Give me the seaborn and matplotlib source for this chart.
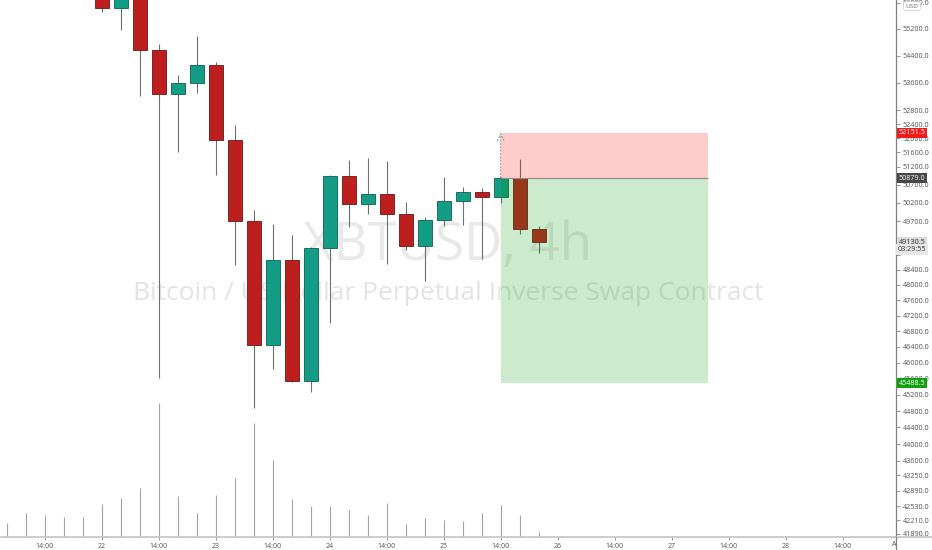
import numpy as np
import matplotlib
matplotlib.use("Agg")
import matplotlib.pyplot as plt
from matplotlib.patches import Rectangle
import seaborn as sns

sns.set_theme(style="white")
plt.rcParams['font.family'] = ['Open Sans', 'DejaVu Sans']

nan = np.nan
# ---- data (4h candles, bar index 0..28) ----
bar_index = list(range(29))
open_ = [nan] * 5 + [56500, 55836, 56250, 54578, 53264, 53586, 54115, 51951, 49693, 46445,
                     48645, 45548, 48965, 50939, 50157, 50432, 49892, 49027, 49728, 50256,
                     50487, 50349, 50891, 49484]
high = [nan] * 5 + [56700, 56350, 56400, 54740, 53829, 54989, 54204, 52370, 50001, 49612,
                    49322, 48990, 50967, 51386, 51451, 51366, 50212, 49802, 50911, 50625,
                    50597, 50900, 51406, 49574]
low = [nan] * 5 + [55724, 55160, 53224, 45615, 51620, 53293, 50958, 48520, 44866, 45840,
                   45508, 45275, 46999, 49531, 49892, 48539, 48920, 48098, 49574, 49593,
                   48672, 50201, 49341, 48848]
close = [nan] * 5 + [55836, 56250, 54578, 53264, 53586, 54115, 51951, 49710, 46445, 48645,
                     45548, 48965, 50939, 50157, 50432, 49892, 49027, 49728, 50256, 50487,
                     50349, 50891, 49484, 49130.5]
volume = [14, 23.7, 21.7, 20, 20, 33, 38.7, 49, 134.3, 41, 24.3, 41.7, 59, 114.3, 77,
          38.3, 31, 31, 27, 22, 33.7, 13, 19, 16.7, 16, 23.7, 31.7, 21.7, 4.7]

time_tick_pos = [2, 5, 8, 11, 14, 17, 20, 23, 26, 29, 32, 35, 38, 41, 44]
time_tick_labels = ["14:00", "22", "14:00", "23", "14:00", "24", "14:00", "25",
                    "14:00", "26", "14:00", "27", "14:00", "28", "14:00"]
price_ticks = [56000, 55200, 54400, 53600, 52800, 52400, 52000, 51600, 51200, 50700,
               50200, 49700, 49200, 48800, 48400, 48000, 47600, 47200, 46800, 46400,
               46000, 45600, 45200, 44800, 44400, 44000, 43600, 43250, 42890, 42530,
               42210, 41890]
hidden_ticks = [49200, 48800]  # fully covered by the price/countdown labels

# position tool
entry_price = 50879.0
stop_price = 52151.5
target_price = 45488.5
pos_start, pos_end = 26, 36.92
last_price = 49130.5
countdown = "03:29:55"

title_text = "XBTUSD, 4h"
subtitle_text = "Bitcoin / US Dollar Perpetual Inverse Swap Contract"

# ---- figure ----
W, H = 932, 550
fig = plt.figure(figsize=(W / 100, H / 100), dpi=100)
fig.patch.set_facecolor("white")
rect = [0, 13 / H, 895.7 / W, 537 / H]

axv = fig.add_axes(rect)
axv.set_facecolor("white")
ax = fig.add_axes(rect, sharex=axv)
ax.set_facecolor("none")

# volume
axv.vlines(bar_index, 0, volume, color="#a3a3a3", lw=0.8)
axv.set_ylim(0, 537)
axv.set_yticks([])
for s in axv.spines.values():
    s.set_visible(False)

axv.text(0.5, 1 - 246 / 537, title_text, transform=axv.transAxes, ha="center",
         va="center", fontsize=38, color="#e9e9e9", zorder=0)
axv.text(0.5, 1 - 293 / 537, subtitle_text, transform=axv.transAxes, ha="center",
         va="center", fontsize=19, color="#e4e4e4", zorder=0)

# candles
up_c, up_e = "#139c86", "#0b5f51"
dn_c, dn_e = "#bd1f1f", "#6e1414"
o = np.array(open_, float); h = np.array(high, float)
l = np.array(low, float); c = np.array(close, float)
xs = np.array(bar_index, float)
ok = ~np.isnan(o)
ax.vlines(xs[ok], l[ok], h[ok], color="#707070", lw=0.8, zorder=2)
up = ok & (c >= o)
dn = ok & (c < o)
ax.bar(xs[up], c[up] - o[up], bottom=o[up], width=0.74, color=up_c, edgecolor=up_e,
       linewidth=0.6, zorder=3)
ax.bar(xs[dn], o[dn] - c[dn], bottom=c[dn], width=0.74, color=dn_c, edgecolor=dn_e,
       linewidth=0.6, zorder=3)

# position box (drawn over candles)
ax.add_patch(Rectangle((pos_start, entry_price), pos_end - pos_start, stop_price - entry_price,
                       facecolor=(1, 0, 0, 0.2), edgecolor="none", zorder=5))
ax.add_patch(Rectangle((pos_start, target_price), pos_end - pos_start, entry_price - target_price,
                       facecolor=(0, 0.59, 0, 0.2), edgecolor="none", zorder=5))
ax.hlines(entry_price, pos_start, pos_end, color="#8c8c8c", lw=0.8, zorder=6)
ax.annotate("", xy=(pos_start, stop_price), xytext=(pos_start, entry_price),
            arrowprops=dict(arrowstyle="->", linestyle=(0, (2, 2)), color="#8a8a8a",
                            lw=0.6, shrinkA=0, shrinkB=0), zorder=6)

# axes setup
ax.set_yscale("log")
ax.set_ylim(41820, 56081)
ax.set_xlim(-0.35, 46.79)
ax.yaxis.tick_right()
ax.set_yticks(price_ticks)
ax.set_yticklabels(["" if p in hidden_ticks else f"{p:.1f}" for p in price_ticks])
ax.yaxis.set_minor_locator(matplotlib.ticker.NullLocator())
ax.tick_params(axis="y", which="major", direction="out", length=3, width=0.6,
               color="#888888", labelsize=5.2, labelcolor="#555555", pad=2, right=True)
axv.set_xticks(time_tick_pos)
axv.set_xticklabels(time_tick_labels)
axv.tick_params(axis="x", direction="out", length=2, width=0.6, color="#888888",
                labelsize=5, labelcolor="#555555", pad=2, bottom=True)
ax.tick_params(axis="x", bottom=False, labelbottom=False)
for name, s in ax.spines.items():
    s.set_visible(name == "right")
ax.spines["right"].set_color("#808080")
ax.spines["right"].set_linewidth(0.9)
axv.spines["bottom"].set_visible(True)
axv.spines["bottom"].set_color("#c4c4c4")
axv.spines["bottom"].set_linewidth(1.2)
ax.grid(False); axv.grid(False)

# extensions of axis lines into the margin
fig.add_artist(plt.Line2D([895.7 / W, 1], [13 / H, 13 / H], color="#c4c4c4", lw=1.2))
fig.add_artist(plt.Line2D([895.7 / W, 895.7 / W], [0, 13 / H], color="#808080", lw=0.9))
fig.text(893.7 / W, 1 - 544 / H, "A", fontsize=5, color="#555555", ha="center", va="center")

# price labels on the scale
yt = ax.get_yaxis_transform()
def price_label(y, txt, fc, tc):
    ax.text(1.003, y, txt, transform=yt, ha="left", va="center", fontsize=5.2,
            color=tc, zorder=10, clip_on=False,
            bbox=dict(boxstyle="square,pad=0.25", facecolor=fc, edgecolor="none"))

price_label(stop_price, f"{stop_price:.1f}", "#f21a1a", "white")
price_label(entry_price, f"{entry_price:.1f}", "#474747", "white")
price_label(target_price, f"{target_price:.1f}", "#10a010", "white")
price_label(last_price, f"{last_price:.1f}", "#dadada", "#333333")
fig.text(898 / W, 1 - 249.7 / H, countdown, ha="left", va="center", fontsize=5.2,
         color="#333333", zorder=10,
         bbox=dict(boxstyle="square,pad=0.25", facecolor="#e6e6e6", edgecolor="none"))

fig.text(912 / W, 1 - 6 / H, "USD", ha="center", va="center", fontsize=4.6, color="#666666",
         bbox=dict(boxstyle="round,pad=0.3", facecolor="white", edgecolor="#cccccc", lw=0.5))

fig.savefig("out.png", dpi=100, facecolor="white")
